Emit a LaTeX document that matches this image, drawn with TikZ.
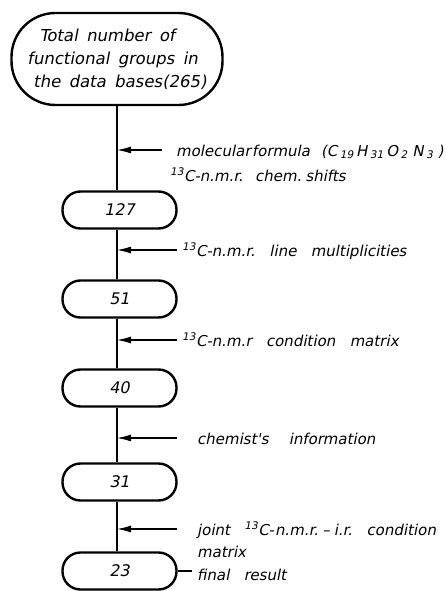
\documentclass[tikz,border=0pt]{standalone}
\usepackage{fontspec}
\setmainfont{DejaVu Sans}
\newfontfamily\lab[FakeSlant=0.2,WordSpace=3]{DejaVu Sans}
\newfontfamily\toplab[FakeSlant=0.19,WordSpace=1.6]{DejaVu Sans}
\usetikzlibrary{arrows.meta}
\newcommand{\sbs}[1]{\hspace{2.5pt}\textsubscript{#1}\hspace{2.5pt}}
\begin{document}
\begin{tikzpicture}[x=1pt,y=-1pt,
  box/.style={draw, line width=2.4pt, rounded corners=18pt, minimum width=114pt,
    minimum height=37pt, inner sep=0pt, font=\lab\fontsize{16}{18}\selectfont},
  topbox/.style={draw, line width=2.4pt, rounded corners=44pt, minimum width=211pt,
    minimum height=92pt, inner sep=0pt, align=left, font=\toplab\fontsize{16.5}{23}\selectfont},
  trunk/.style={line width=2.8pt},
  feed/.style={line width=1.2pt, -{Latex[length=14pt,width=7pt]}},
  tie/.style={line width=1.2pt},
  lbl/.style={anchor=base west, inner sep=0pt, font=\lab\fontsize{15}{18}\selectfont}]
\useasboundingbox (0,0) rectangle (445,591);
\coordinate (lx) at (117,0);
% nodes
\node[topbox] (top) at (117,59) {\hspace{12pt}Total number of\\functional groups in\\\hspace{6pt}the data bases(265)};
\node[box] (n127) at (119.5,210) {127};
\node[box] (n51) at (119.5,299) {51};
\node[box] (n40) at (119.5,388) {40};
\node[box] (n31) at (119.5,482) {31};
\node[box] (n23) at (119.5,571) {23};
% trunk
\draw[trunk] (top.south -| lx) -- (n127.north -| lx);
\draw[trunk] (n127.south -| lx) -- (n51.north -| lx);
\draw[trunk] (n51.south -| lx) -- (n40.north -| lx);
\draw[trunk] (n40.south -| lx) -- (n31.north -| lx);
\draw[trunk] (n31.south -| lx) -- (n23.north -| lx);
% feeding arrows
\coordinate (t1) at (162,150);
\coordinate (t2) at (177,250);
\coordinate (t3) at (177,340);
\coordinate (t4) at (177,438);
\coordinate (t5) at (177,529);
\draw[feed] (t1) -- (t1 -| lx);
\draw[feed] (t2) -- (t2 -| lx);
\draw[feed] (t3) -- (t3 -| lx);
\draw[feed] (t4) -- (t4 -| lx);
\draw[feed] (t5) -- (t5 -| lx);
% labels
\node[lbl] (l1) at (176,156) {molecular\hspace{1.5pt}formula\hspace{11pt}(C\sbs{19}H\sbs{31}O\sbs{2}\hspace{2pt}N\sbs{3}\hspace{2pt})};
\node[lbl] (l1b) at (170,181) {\textsuperscript{13}C-n.m.r.\hspace{12pt}chem.\hspace{4pt}shifts};
\node[lbl] (l2) at (182,256) {\textsuperscript{13}C-n.m.r.\ line multiplicities};
\node[lbl] (l3) at (182,346) {\textsuperscript{13}C-n.m.r\ condition matrix};
\node[lbl] (l4) at (197,444) {chemist's\hspace{6pt} information};
\node[lbl] (l5) at (197,535) {joint \textsuperscript{13}C-\hspace{1pt}n.m.r.\hspace{4pt}\textendash\hspace{4pt}i.r.\ condition};
\node[lbl] (l5b) at ([yshift=-22pt]l5.base west) {matrix};
\node[lbl] (fr) at (197,580) {final result};
\coordinate (frx) at (192,0);
\draw[tie] (n23.east) -- (n23.east -| frx);
\end{tikzpicture}
\end{document}
